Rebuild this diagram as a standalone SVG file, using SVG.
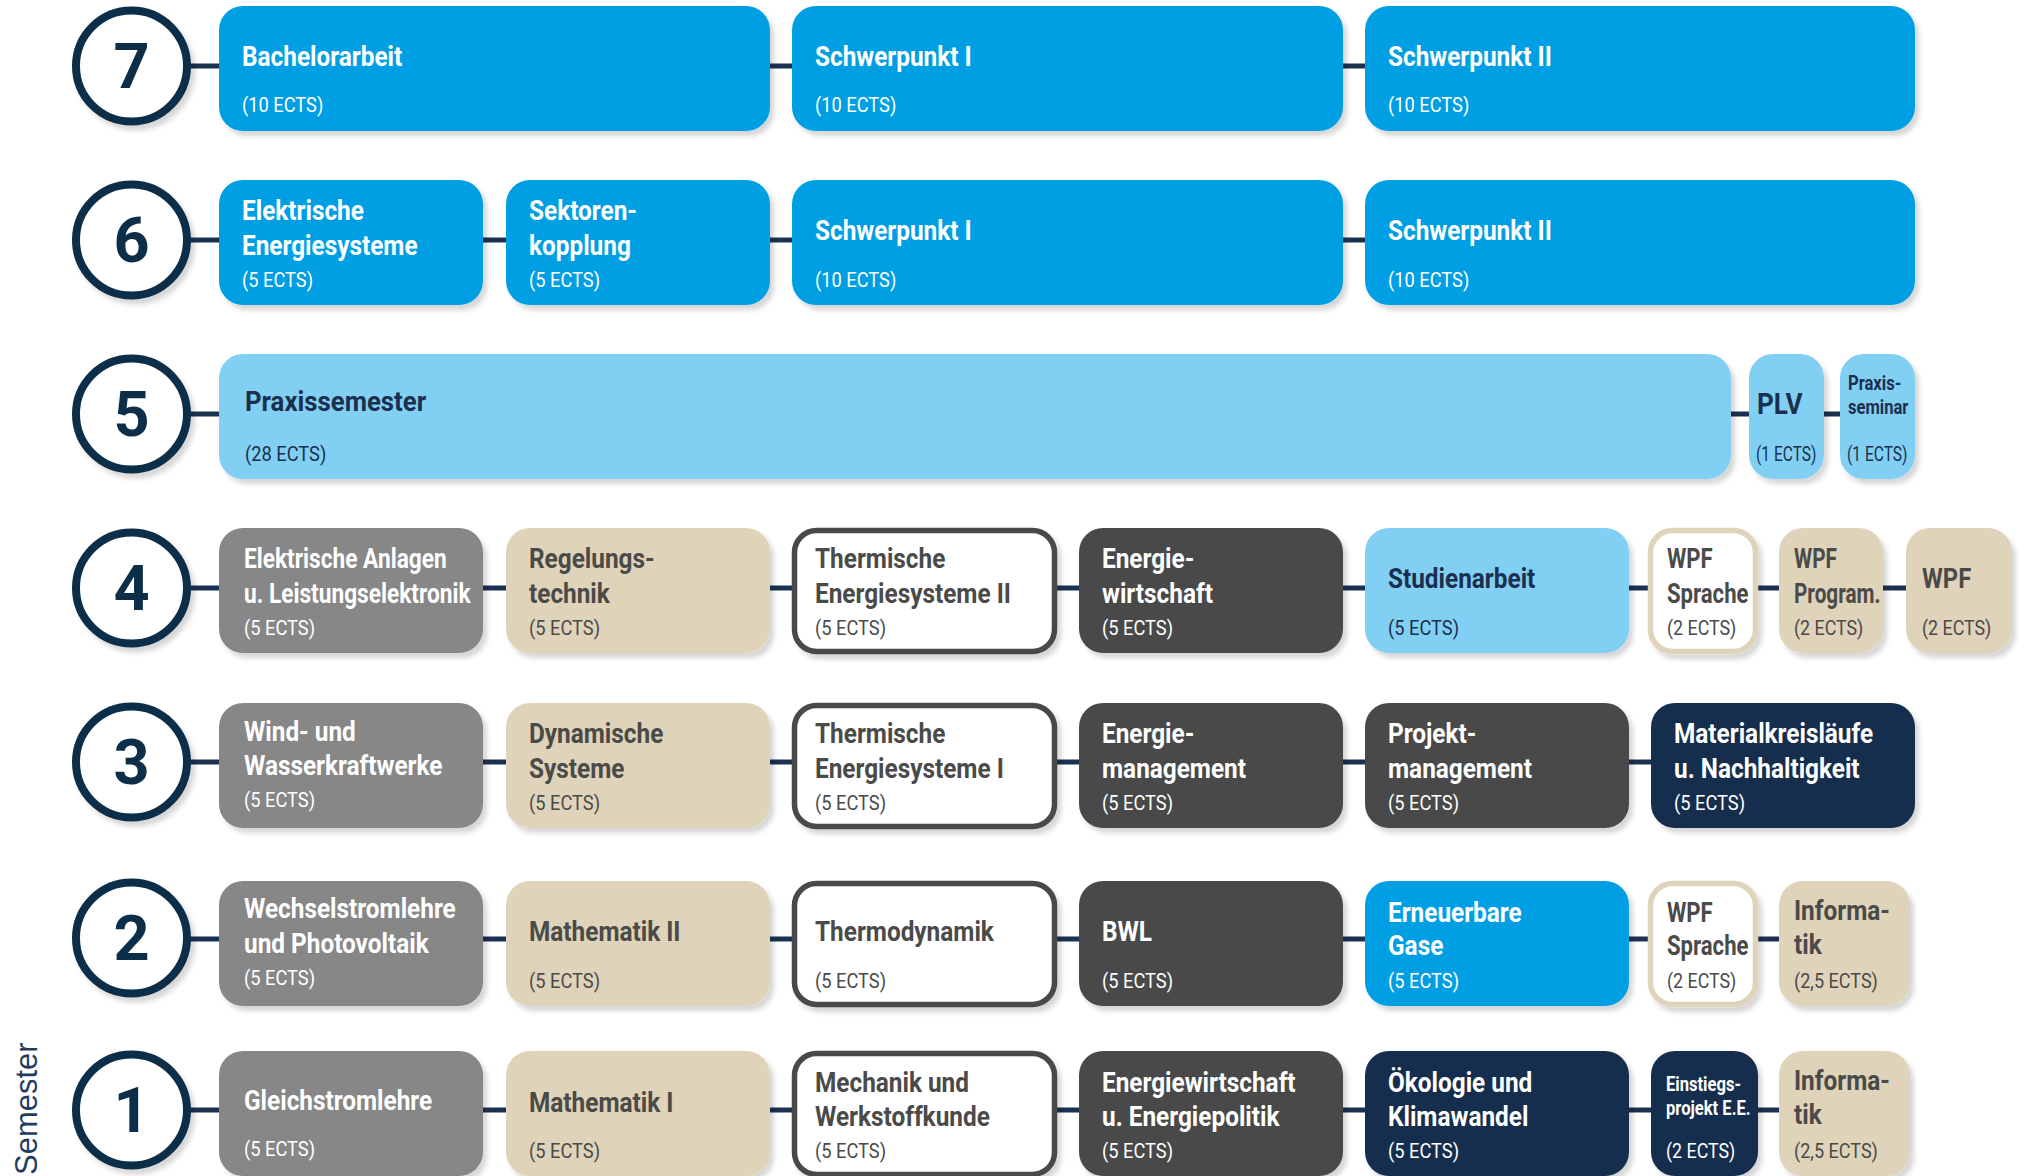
<svg xmlns="http://www.w3.org/2000/svg" width="2026" height="1176" viewBox="0 0 2026 1176">
<defs>
<filter id="sh" x="-10%" y="-10%" width="125%" height="135%">
<feDropShadow dx="4" dy="5" stdDeviation="2.5" flood-color="#000" flood-opacity="0.16"/>
</filter>
<style>
.t{font-family:Roboto,"Liberation Sans",sans-serif;font-weight:700;font-size:28px}
.ts{font-family:Roboto,"Liberation Sans",sans-serif;font-weight:700;font-size:21px}
.tb{font-family:Roboto,"Liberation Sans",sans-serif;font-weight:700;font-size:30px}
.e{font-family:Roboto,"Liberation Sans",sans-serif;font-weight:400;font-size:21px}
.w{fill:#ffffff}.n{fill:#1b2f4e}.g{fill:#4a4a49}
.blue{fill:#009fe3}.lb{fill:#82cff4}.gray{fill:#878787}.beige{fill:#dfd3b9}.dg{fill:#4a4a49}.navy{fill:#172f4e}
.ow{fill:#ffffff;stroke:#4a4a49;stroke-width:5.5}
.ob{fill:#ffffff;stroke:#dfd3b9;stroke-width:5.5}
.box{filter:url(#sh)}
.ring{fill:#ffffff;stroke:#0c2e48;stroke-width:8;filter:url(#sh)}
.num{font-family:Roboto,"Liberation Sans",sans-serif;font-weight:700;font-size:63px;fill:#0c2e48;text-anchor:middle}
.ln{stroke:#1b3152;stroke-width:5;fill:none}
</style>
</defs>
<rect width="2026" height="1176" fill="#ffffff"/>

<g id="connectors">
<line class="ln" x1="186" y1="66" x2="1380" y2="66"/>
<line class="ln" x1="186" y1="240" x2="1380" y2="240"/>
<line class="ln" x1="186" y1="414" x2="1850" y2="414"/>
<line class="ln" x1="186" y1="588" x2="1915" y2="588"/>
<line class="ln" x1="186" y1="762" x2="1660" y2="762"/>
<line class="ln" x1="186" y1="939" x2="1790" y2="939"/>
<line class="ln" x1="186" y1="1110" x2="1790" y2="1110"/>
</g>

<g id="semester-labels">
<g id="sem7"><circle class="ring" cx="131.5" cy="66" r="55.5"/><text class="num" x="131.5" y="88">7</text></g>
<g id="sem6"><circle class="ring" cx="131.5" cy="240" r="55.5"/><text class="num" x="131.5" y="262">6</text></g>
<g id="sem5"><circle class="ring" cx="131.5" cy="414" r="55.5"/><text class="num" x="131.5" y="436">5</text></g>
<g id="sem4"><circle class="ring" cx="131.5" cy="588" r="55.5"/><text class="num" x="131.5" y="610">4</text></g>
<g id="sem3"><circle class="ring" cx="131.5" cy="762" r="55.5"/><text class="num" x="131.5" y="784">3</text></g>
<g id="sem2"><circle class="ring" cx="131.5" cy="938" r="55.5"/><text class="num" x="131.5" y="960">2</text></g>
<g id="sem1"><circle class="ring" cx="131.5" cy="1110" r="55.5"/><text class="num" x="131.5" y="1132">1</text></g>
</g>

<text id="semester" transform="translate(37,1175) rotate(-90)" font-family="'Liberation Sans',Arial,sans-serif" font-size="31" fill="#1f3d5f">Semester</text>

<!-- Row 7 -->
<g id="bachelorarbeit"><rect class="box blue" x="219" y="6" width="551" height="125" rx="24"/>
<text class="t w" transform="translate(242) scale(.87,1)"><tspan x="0" y="66">Bachelorarbeit</tspan></text>
<text class="e w" transform="translate(242) scale(.87,1)"><tspan x="0" y="112">(10 ECTS)</tspan></text></g>
<g id="schwerpunkt1-s7"><rect class="box blue" x="792" y="6" width="551" height="125" rx="24"/>
<text class="t w" transform="translate(815) scale(.87,1)"><tspan x="0" y="66">Schwerpunkt I</tspan></text>
<text class="e w" transform="translate(815) scale(.87,1)"><tspan x="0" y="112">(10 ECTS)</tspan></text></g>
<g id="schwerpunkt2-s7"><rect class="box blue" x="1365" y="6" width="550" height="125" rx="24"/>
<text class="t w" transform="translate(1388) scale(.87,1)"><tspan x="0" y="66">Schwerpunkt II</tspan></text>
<text class="e w" transform="translate(1388) scale(.87,1)"><tspan x="0" y="112">(10 ECTS)</tspan></text></g>

<!-- Row 6 -->
<g id="elektrische-energiesysteme"><rect class="box blue" x="219" y="180" width="264" height="125" rx="24"/>
<text class="t w" transform="translate(242) scale(.87,1)"><tspan x="0" y="220">Elektrische</tspan><tspan x="0" y="255">Energiesysteme</tspan></text>
<text class="e w" transform="translate(242) scale(.87,1)"><tspan x="0" y="287">(5 ECTS)</tspan></text></g>
<g id="sektorenkopplung"><rect class="box blue" x="506" y="180" width="264" height="125" rx="24"/>
<text class="t w" transform="translate(529) scale(.87,1)"><tspan x="0" y="220">Sektoren-</tspan><tspan x="0" y="255">kopplung</tspan></text>
<text class="e w" transform="translate(529) scale(.87,1)"><tspan x="0" y="287">(5 ECTS)</tspan></text></g>
<g id="schwerpunkt1-s6"><rect class="box blue" x="792" y="180" width="551" height="125" rx="24"/>
<text class="t w" transform="translate(815) scale(.87,1)"><tspan x="0" y="240">Schwerpunkt I</tspan></text>
<text class="e w" transform="translate(815) scale(.87,1)"><tspan x="0" y="287">(10 ECTS)</tspan></text></g>
<g id="schwerpunkt2-s6"><rect class="box blue" x="1365" y="180" width="550" height="125" rx="24"/>
<text class="t w" transform="translate(1388) scale(.87,1)"><tspan x="0" y="240">Schwerpunkt II</tspan></text>
<text class="e w" transform="translate(1388) scale(.87,1)"><tspan x="0" y="287">(10 ECTS)</tspan></text></g>

<!-- Row 5 -->
<g id="praxissemester"><rect class="box lb" x="219" y="354" width="1512" height="125" rx="24"/>
<text class="t n" font-size="29" transform="translate(245) scale(.92,1)"><tspan x="0" y="411">Praxissemester</tspan></text>
<text class="e n" transform="translate(245) scale(.87,1)"><tspan x="0" y="461">(28 ECTS)</tspan></text></g>
<g id="plv"><rect class="box lb" x="1749" y="354" width="75" height="125" rx="24"/>
<text class="tb n" transform="translate(1757) scale(.87,1)"><tspan x="0" y="414">PLV</tspan></text>
<text class="e n" transform="translate(1756) scale(.74,1)"><tspan x="0" y="461">(1 ECTS)</tspan></text></g>
<g id="praxisseminar"><rect class="box lb" x="1840" y="354" width="75" height="125" rx="24"/>
<text class="ts n" transform="translate(1848) scale(.79,1)"><tspan x="0" y="390">Praxis-</tspan><tspan x="0" y="414">seminar</tspan></text>
<text class="e n" transform="translate(1847) scale(.74,1)"><tspan x="0" y="461">(1 ECTS)</tspan></text></g>

<!-- Row 4 -->
<g id="elektrische-anlagen"><rect class="box gray" x="219" y="528" width="264" height="125" rx="24"/>
<text class="t w" transform="translate(244) scale(.81,1)"><tspan x="0" y="568">Elektrische Anlagen</tspan><tspan x="0" y="603">u. Leistungselektronik</tspan></text>
<text class="e w" transform="translate(244) scale(.87,1)"><tspan x="0" y="635">(5 ECTS)</tspan></text></g>
<g id="regelungstechnik"><rect class="box beige" x="506" y="528" width="264" height="125" rx="24"/>
<text class="t g" transform="translate(529) scale(.87,1)"><tspan x="0" y="568">Regelungs-</tspan><tspan x="0" y="603">technik</tspan></text>
<text class="e g" transform="translate(529) scale(.87,1)"><tspan x="0" y="635">(5 ECTS)</tspan></text></g>
<g id="thermische-es-2"><rect class="box ow" x="794.5" y="530.5" width="260" height="121" rx="22"/>
<text class="t g" transform="translate(815) scale(.87,1)"><tspan x="0" y="568">Thermische</tspan><tspan x="0" y="603">Energiesysteme II</tspan></text>
<text class="e g" transform="translate(815) scale(.87,1)"><tspan x="0" y="635">(5 ECTS)</tspan></text></g>
<g id="energiewirtschaft"><rect class="box dg" x="1079" y="528" width="264" height="125" rx="24"/>
<text class="t w" transform="translate(1102) scale(.87,1)"><tspan x="0" y="568">Energie-</tspan><tspan x="0" y="603">wirtschaft</tspan></text>
<text class="e w" transform="translate(1102) scale(.87,1)"><tspan x="0" y="635">(5 ECTS)</tspan></text></g>
<g id="studienarbeit"><rect class="box lb" x="1365" y="528" width="264" height="125" rx="24"/>
<text class="t n" transform="translate(1388) scale(.87,1)"><tspan x="0" y="588">Studienarbeit</tspan></text>
<text class="e n" transform="translate(1388) scale(.87,1)"><tspan x="0" y="635">(5 ECTS)</tspan></text></g>
<g id="wpf-sprache-s4"><rect class="box ob" x="1650.5" y="530.5" width="105" height="121" rx="22"/>
<text class="t g" transform="translate(1667) scale(.79,1)"><tspan x="0" y="568">WPF</tspan><tspan x="0" y="603">Sprache</tspan></text>
<text class="e g" transform="translate(1667) scale(.85,1)"><tspan x="0" y="635">(2 ECTS)</tspan></text></g>
<g id="wpf-program"><rect class="box beige" x="1779" y="528" width="104" height="125" rx="24"/>
<text class="t g" transform="translate(1794) scale(.74,1)"><tspan x="0" y="568">WPF</tspan><tspan x="0" y="603">Program.</tspan></text>
<text class="e g" transform="translate(1794) scale(.85,1)"><tspan x="0" y="635">(2 ECTS)</tspan></text></g>
<g id="wpf"><rect class="box beige" x="1906" y="528" width="106" height="125" rx="24"/>
<text class="t g" transform="translate(1922) scale(.85,1)"><tspan x="0" y="588">WPF</tspan></text>
<text class="e g" transform="translate(1922) scale(.85,1)"><tspan x="0" y="635">(2 ECTS)</tspan></text></g>

<!-- Row 3 -->
<g id="wind-wasser"><rect class="box gray" x="219" y="703" width="264" height="125" rx="24"/>
<text class="t w" transform="translate(244) scale(.87,1)"><tspan x="0" y="741">Wind- und</tspan><tspan x="0" y="775">Wasserkraftwerke</tspan></text>
<text class="e w" transform="translate(244) scale(.87,1)"><tspan x="0" y="807">(5 ECTS)</tspan></text></g>
<g id="dynamische-systeme"><rect class="box beige" x="506" y="703" width="264" height="125" rx="24"/>
<text class="t g" transform="translate(529) scale(.87,1)"><tspan x="0" y="743">Dynamische</tspan><tspan x="0" y="778">Systeme</tspan></text>
<text class="e g" transform="translate(529) scale(.87,1)"><tspan x="0" y="810">(5 ECTS)</tspan></text></g>
<g id="thermische-es-1"><rect class="box ow" x="794.5" y="705.5" width="260" height="121" rx="22"/>
<text class="t g" transform="translate(815) scale(.87,1)"><tspan x="0" y="743">Thermische</tspan><tspan x="0" y="778">Energiesysteme I</tspan></text>
<text class="e g" transform="translate(815) scale(.87,1)"><tspan x="0" y="810">(5 ECTS)</tspan></text></g>
<g id="energiemanagement"><rect class="box dg" x="1079" y="703" width="264" height="125" rx="24"/>
<text class="t w" transform="translate(1102) scale(.87,1)"><tspan x="0" y="743">Energie-</tspan><tspan x="0" y="778">management</tspan></text>
<text class="e w" transform="translate(1102) scale(.87,1)"><tspan x="0" y="810">(5 ECTS)</tspan></text></g>
<g id="projektmanagement"><rect class="box dg" x="1365" y="703" width="264" height="125" rx="24"/>
<text class="t w" transform="translate(1388) scale(.87,1)"><tspan x="0" y="743">Projekt-</tspan><tspan x="0" y="778">management</tspan></text>
<text class="e w" transform="translate(1388) scale(.87,1)"><tspan x="0" y="810">(5 ECTS)</tspan></text></g>
<g id="materialkreislaeufe"><rect class="box navy" x="1651" y="703" width="264" height="125" rx="24"/>
<text class="t w" transform="translate(1674) scale(.87,1)"><tspan x="0" y="743">Materialkreisläufe</tspan><tspan x="0" y="778">u. Nachhaltigkeit</tspan></text>
<text class="e w" transform="translate(1674) scale(.87,1)"><tspan x="0" y="810">(5 ECTS)</tspan></text></g>

<!-- Row 2 -->
<g id="wechselstromlehre"><rect class="box gray" x="219" y="881" width="264" height="125" rx="24"/>
<text class="t w" transform="translate(244) scale(.87,1)"><tspan x="0" y="918">Wechselstromlehre</tspan><tspan x="0" y="953">und Photovoltaik</tspan></text>
<text class="e w" transform="translate(244) scale(.87,1)"><tspan x="0" y="985">(5 ECTS)</tspan></text></g>
<g id="mathematik2"><rect class="box beige" x="506" y="881" width="264" height="125" rx="24"/>
<text class="t g" transform="translate(529) scale(.87,1)"><tspan x="0" y="941">Mathematik II</tspan></text>
<text class="e g" transform="translate(529) scale(.87,1)"><tspan x="0" y="988">(5 ECTS)</tspan></text></g>
<g id="thermodynamik"><rect class="box ow" x="794.5" y="883.5" width="260" height="121" rx="22"/>
<text class="t g" transform="translate(815) scale(.87,1)"><tspan x="0" y="941">Thermodynamik</tspan></text>
<text class="e g" transform="translate(815) scale(.87,1)"><tspan x="0" y="988">(5 ECTS)</tspan></text></g>
<g id="bwl"><rect class="box dg" x="1079" y="881" width="264" height="125" rx="24"/>
<text class="t w" transform="translate(1102) scale(.87,1)"><tspan x="0" y="941">BWL</tspan></text>
<text class="e w" transform="translate(1102) scale(.87,1)"><tspan x="0" y="988">(5 ECTS)</tspan></text></g>
<g id="erneuerbare-gase"><rect class="box blue" x="1365" y="881" width="264" height="125" rx="24"/>
<text class="t w" transform="translate(1388) scale(.87,1)"><tspan x="0" y="922">Erneuerbare</tspan><tspan x="0" y="955">Gase</tspan></text>
<text class="e w" transform="translate(1388) scale(.87,1)"><tspan x="0" y="988">(5 ECTS)</tspan></text></g>
<g id="wpf-sprache-s2"><rect class="box ob" x="1650.5" y="883.5" width="105" height="121" rx="22"/>
<text class="t g" transform="translate(1667) scale(.79,1)"><tspan x="0" y="922">WPF</tspan><tspan x="0" y="955">Sprache</tspan></text>
<text class="e g" transform="translate(1667) scale(.85,1)"><tspan x="0" y="988">(2 ECTS)</tspan></text></g>
<g id="informatik-s2"><rect class="box beige" x="1779" y="881" width="131" height="125" rx="24"/>
<text class="t g" transform="translate(1794) scale(.87,1)"><tspan x="0" y="920">Informa-</tspan><tspan x="0" y="954">tik</tspan></text>
<text class="e g" transform="translate(1794) scale(.86,1)"><tspan x="0" y="988">(2,5 ECTS)</tspan></text></g>

<!-- Row 1 -->
<g id="gleichstromlehre"><rect class="box gray" x="219" y="1051" width="264" height="125" rx="24"/>
<text class="t w" transform="translate(244) scale(.87,1)"><tspan x="0" y="1110">Gleichstromlehre</tspan></text>
<text class="e w" transform="translate(244) scale(.87,1)"><tspan x="0" y="1156">(5 ECTS)</tspan></text></g>
<g id="mathematik1"><rect class="box beige" x="506" y="1051" width="264" height="125" rx="24"/>
<text class="t g" transform="translate(529) scale(.87,1)"><tspan x="0" y="1112">Mathematik I</tspan></text>
<text class="e g" transform="translate(529) scale(.87,1)"><tspan x="0" y="1158">(5 ECTS)</tspan></text></g>
<g id="mechanik"><rect class="box ow" x="794.5" y="1053.5" width="260" height="121" rx="22"/>
<text class="t g" transform="translate(815) scale(.87,1)"><tspan x="0" y="1092">Mechanik und</tspan><tspan x="0" y="1126">Werkstoffkunde</tspan></text>
<text class="e g" transform="translate(815) scale(.87,1)"><tspan x="0" y="1158">(5 ECTS)</tspan></text></g>
<g id="energiewirtschaft-politik"><rect class="box dg" x="1079" y="1051" width="264" height="125" rx="24"/>
<text class="t w" transform="translate(1102) scale(.87,1)"><tspan x="0" y="1092">Energiewirtschaft</tspan><tspan x="0" y="1126">u. Energiepolitik</tspan></text>
<text class="e w" transform="translate(1102) scale(.87,1)"><tspan x="0" y="1158">(5 ECTS)</tspan></text></g>
<g id="oekologie"><rect class="box navy" x="1365" y="1051" width="264" height="125" rx="24"/>
<text class="t w" transform="translate(1388) scale(.87,1)"><tspan x="0" y="1092">Ökologie und</tspan><tspan x="0" y="1126">Klimawandel</tspan></text>
<text class="e w" transform="translate(1388) scale(.87,1)"><tspan x="0" y="1158">(5 ECTS)</tspan></text></g>
<g id="einstiegsprojekt"><rect class="box navy" x="1651" y="1051" width="107" height="125" rx="24"/>
<text class="ts w" transform="translate(1666) scale(.79,1)"><tspan x="0" y="1091">Einstiegs-</tspan><tspan x="0" y="1115">projekt E.E.</tspan></text>
<text class="e w" transform="translate(1666) scale(.85,1)"><tspan x="0" y="1158">(2 ECTS)</tspan></text></g>
<g id="informatik-s1"><rect class="box beige" x="1779" y="1051" width="131" height="125" rx="24"/>
<text class="t g" transform="translate(1794) scale(.87,1)"><tspan x="0" y="1090">Informa-</tspan><tspan x="0" y="1124">tik</tspan></text>
<text class="e g" transform="translate(1794) scale(.86,1)"><tspan x="0" y="1158">(2,5 ECTS)</tspan></text></g>
</svg>
